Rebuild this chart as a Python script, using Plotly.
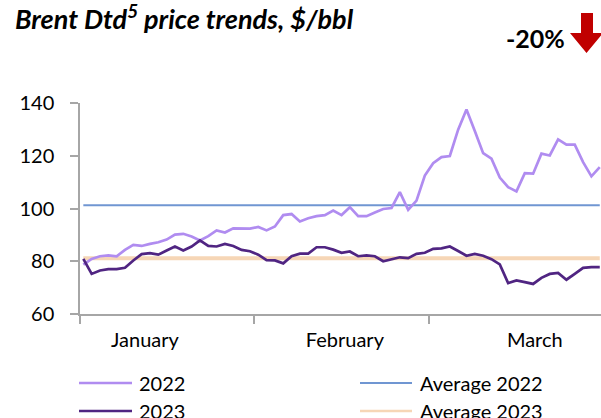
import plotly.graph_objects as go

# ---------------- data ----------------
PRICE_2022 = [78.7, 80.9, 81.9, 82.2, 81.9, 84.3, 86.2, 85.8, 86.6, 87.2,
              88.2, 90.1, 90.4, 89.4, 87.9, 89.5, 91.7, 90.9, 92.5, 92.4,
              92.4, 93.0, 91.7, 93.2, 97.5, 97.9, 95.1, 96.3, 97.1, 97.5,
              99.2, 97.5, 100.5, 97.1, 97.1, 98.5, 99.8, 100.2, 106.2, 99.5,
              103.0, 112.5, 117.2, 119.5, 119.9, 129.9, 137.5, 129.4, 121.0, 118.9,
              111.7, 108.1, 106.5, 113.4, 113.2, 120.8, 120.1, 126.2, 124.2, 124.2,
              117.6, 112.2, 115.7]
PRICE_2023 = [80.9, 75.2, 76.5, 77.0, 77.0, 77.5, 80.3, 82.7, 83.1, 82.5,
              84.1, 85.6, 84.1, 85.6, 87.9, 85.8, 85.6, 86.6, 85.8, 84.3,
              83.8, 82.5, 80.4, 80.3, 79.2, 81.9, 82.9, 82.9, 85.3, 85.3,
              84.4, 83.2, 83.7, 81.9, 82.2, 81.9, 80.0, 80.8, 81.5, 81.2,
              82.8, 83.2, 84.7, 84.9, 85.6, 83.9, 82.1, 82.8, 82.1, 80.8,
              78.8, 71.7, 72.7, 72.1, 71.4, 73.7, 75.2, 75.6, 73.0, 75.2,
              77.5, 77.8, 77.8]
AVG_2022 = 101.2
AVG_2023 = 81.1
DAYS = list(range(len(PRICE_2022)))
MONTHS = ["January", "February", "March"]
Y_TICKS = [60, 80, 100, 120, 140]
TITLE = "Brent Dtd<sup>5</sup> price trends, $/bbl"
CHANGE = "-20%"

# ---------------- layout helpers ----------------
W, H = 601, 418
# plot area in pixels
PL, PR, PT, PB = 80, 601, 103, 314


def px_x(p):
    return (p - PL) / (PR - PL)


def px_y(p):
    return (PB - p) / (PB - PT)


FONT = "Lato"
C22 = "#B08CF0"
C23 = "#502582"
CA22 = "#7096D2"
CA23 = "#F6D6B6"
AX = "#A6A6A6"

series = [
    # name, y, color, width, legend column, legend row
    ("Average 2023", [AVG_2023] * len(DAYS), CA23, 4, 1, 1),
    ("Average 2022", [AVG_2022] * len(DAYS), CA22, 2, 1, 0),
    ("2022", PRICE_2022, C22, 2.7, 0, 0),
    ("2023", PRICE_2023, C23, 2.7, 0, 1),
]

fig = go.Figure()
LEG_X = [(79, 132, 137), (360, 412, 418)]
LEG_Y = [383, 411]
for name, ys, col, wdt, lc, lr in series:
    fig.add_trace(go.Scatter(x=DAYS, y=ys, mode="lines", name=name,
                             line=dict(color=col, width=wdt), showlegend=False))
    x0, x1, xt = LEG_X[lc]
    yy = LEG_Y[lr]
    fig.add_shape(type="line", xref="paper", yref="paper",
                  x0=px_x(x0), x1=px_x(x1), y0=px_y(yy), y1=px_y(yy),
                  line=dict(color=col, width=min(wdt, 2.7)))
    fig.add_annotation(text=name, xref="paper", yref="paper",
                       x=px_x(xt), y=px_y(yy), xanchor="left", yanchor="middle",
                       showarrow=False,
                       font=dict(family=FONT, size=20, color="black"))

# red down arrow
ax_l, ax_r, cx = 581, 593, 586.5
hl, hr = 570, 603
top, neck, tip = 13, 33, 53
path = (f"M{px_x(ax_l)},{px_y(top)} L{px_x(ax_r)},{px_y(top)} "
        f"L{px_x(ax_r)},{px_y(neck)} L{px_x(hr)},{px_y(neck)} "
        f"L{px_x(cx)},{px_y(tip)} L{px_x(hl)},{px_y(neck)} "
        f"L{px_x(ax_l)},{px_y(neck)} Z")
fig.add_shape(type="path", path=path, xref="paper", yref="paper",
              fillcolor="#C00000", line=dict(width=0))

fig.add_annotation(text=f"<b>{CHANGE}</b>", x=px_x(535), y=px_y(38),
                   xref="paper", yref="paper", showarrow=False,
                   xanchor="center", yanchor="middle",
                   font=dict(family=FONT, size=25, color="black"))

fig.update_layout(
    width=W, height=H,
    margin=dict(l=PL, r=W - PR, t=PT, b=H - PB, pad=0, autoexpand=False),
    paper_bgcolor="white", plot_bgcolor="white",
    title=dict(text=f"<b><i>{TITLE}</i></b>", x=15 / W, xanchor="left",
               y=1 - 20 / H, yanchor="middle",
               xref="container", yref="container",
               font=dict(family=FONT, size=27, color="black")),
    font=dict(family=FONT, size=20, color="black"),
    showlegend=False,
)

fig.update_xaxes(range=[-0.4, 62.15], showgrid=False, zeroline=False,
                 showline=True, linecolor=AX, linewidth=1.5,
                 tickmode="array", tickvals=[7.4, 31.4, 54.2], ticktext=MONTHS,
                 ticks="", ticklabelstandoff=7,
                 minor=dict(tickmode="array", tickvals=[-0.38, 20.5, 41.5],
                            ticks="outside", ticklen=8, tickcolor=AX, tickwidth=1.5),
                 tickfont=dict(family=FONT, size=20, color="black"))
fig.update_yaxes(range=[60, 140], tickvals=Y_TICKS, showgrid=False, zeroline=False,
                 showline=True, linecolor=AX, linewidth=1.5,
                 ticks="outside", ticklen=8, tickcolor=AX, tickwidth=1.5,
                 ticklabelstandoff=12,
                 tickfont=dict(family=FONT, size=20, color="black"))

fig.write_html(
    "out.html",
    config={"displayModeBar": False},
    post_script="document.body.style.margin='0';document.body.style.overflow='hidden';",
)
